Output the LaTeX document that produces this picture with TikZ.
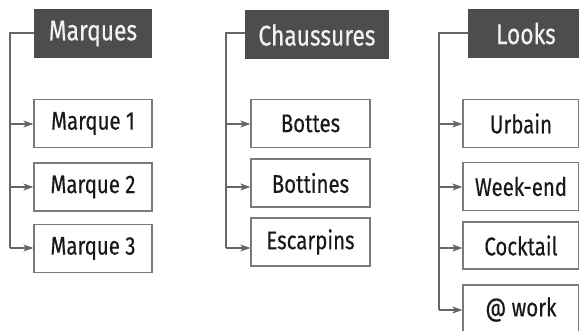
\documentclass[tikz,border=0pt]{standalone}
\usepackage{fontspec}
\setmainfont{Fira Sans}[FakeStretch=0.8, FakeBold=0.4]
\usepackage{tikz}
\usetikzlibrary{arrows.meta}
\definecolor{headgray}{HTML}{4D4D4D}
\definecolor{headtext}{HTML}{F2F2F2}
\definecolor{boxgray}{HTML}{7A7A7A}
\definecolor{linkgray}{HTML}{666666}

\begin{document}
\begin{tikzpicture}[x=1pt, y=-1pt,
    >={Stealth[length=10pt,width=7pt,inset=2.5pt]},
    head/.style={fill=headgray, text=headtext, inner sep=0pt,
        minimum height=49pt, font=\fontsize{28.5}{28.5}\selectfont},
    item/.style={draw=boxgray, fill=white, line width=1.2pt, inner sep=0pt,
        minimum height=48pt, text=black!90, font=\fontsize{25.5}{25.5}\selectfont},
    bus/.style={draw=linkgray, line width=1.2pt},
    link/.style={bus, ->}]

\useasboundingbox (0,0) rectangle (579,331);
\clip (0,0) rectangle (579,331);

% rangees des fleches
\coordinate (r0) at (0,33);
\coordinate (r1) at (0,124);
\coordinate (r2) at (0,187);
\coordinate (r3) at (0,248);
\coordinate (r4) at (0,310);

%------------------------------------------------
% Colonne 1 : Marques
%------------------------------------------------
\node[head, minimum width=118pt] (hM) at (93,33.5) {Marques};
\node[item, minimum width=118pt] (m1) at (93,123.5) {Marque 1};
\node[item, minimum width=118pt] (m2) at (93,187) {Marque 2};
\node[item, minimum width=118pt] (m3) at (93,248.5) {Marque 3};

\coordinate (busM) at (10,0);
\draw[bus] (hM.west |- r0) -| (busM |- r3);
\foreach \n/\r in {m1/r1, m2/r2, m3/r3}
  \draw[link] (busM |- \r) -- (\n.west |- \r);

%------------------------------------------------
% Colonne 2 : Chaussures
%------------------------------------------------
\node[head, minimum width=144pt] (hC) at (317,35) {Chaussures};
\node[item, minimum width=119pt] (c1) at (310.5,123.5) {Bottes};
\node[item, minimum width=119pt] (c2) at (310.5,183) {Bottines};
\node[item, minimum width=119pt] (c3) at (310.5,242) {Escarpins};

\coordinate (busC) at (226,0);
\draw[bus] (hC.west |- r0) -| (busC |- r3);
\foreach \n/\r in {c1/r1, c2/r2, c3/r3}
  \draw[link] (busC |- \r) -- (\n.west |- \r);

%------------------------------------------------
% Colonne 3 : Looks
%------------------------------------------------
\node[head, minimum width=116pt] (hL) at (526,33.5) {Looks};
\node[item, minimum width=116pt] (l1) at (521,123.5) {Urbain};
\node[item, minimum width=116pt] (l2) at (521,186.5) {Week-end};
\node[item, minimum width=116pt, minimum height=47pt] (l3) at (521,245.5) {Cocktail};
\node[item, minimum width=116pt, minimum height=49pt] (l4) at (521,309.5) {@ work};

\coordinate (busL) at (439,0);
\draw[bus] (hL.west |- r0) -| (busL |- r4);
\foreach \n/\r in {l1/r1, l2/r2, l3/r3, l4/r4}
  \draw[link] (busL |- \r) -- (\n.west |- \r);

\end{tikzpicture}
\end{document}
